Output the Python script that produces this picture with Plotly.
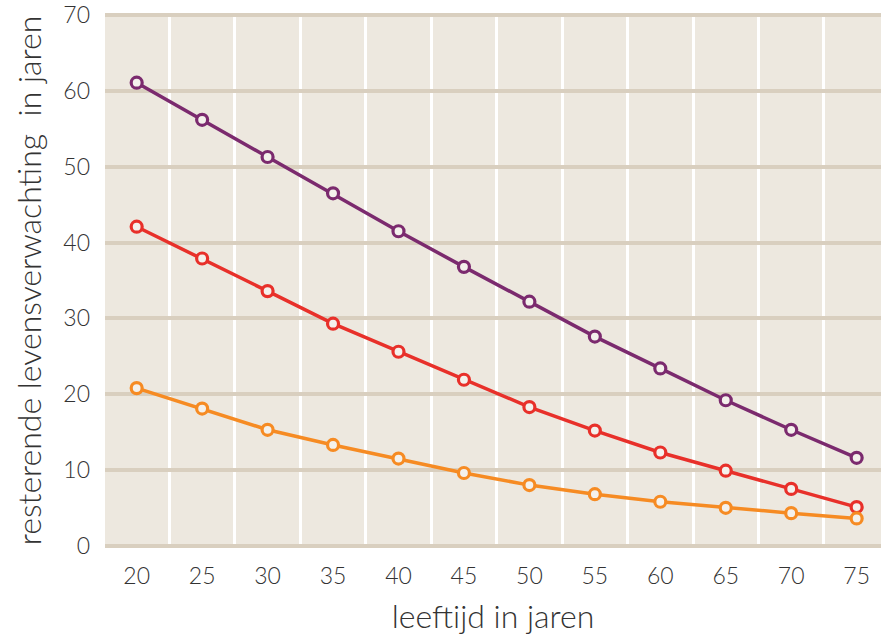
import plotly.graph_objects as go

ages = [20, 25, 30, 35, 40, 45, 50, 55, 60, 65, 70, 75]
purple_vals = [61.1, 56.2, 51.3, 46.5, 41.5, 36.8, 32.2, 27.6, 23.4, 19.2, 15.3, 11.6]
red_vals = [42.1, 37.9, 33.6, 29.3, 25.6, 21.9, 18.3, 15.2, 12.3, 9.9, 7.5, 5.1]
orange_vals = [20.8, 18.1, 15.3, 13.3, 11.5, 9.6, 8.0, 6.8, 5.8, 5.0, 4.3, 3.6]
y_ticks = [0, 10, 20, 30, 40, 50, 60, 70]

series = [
    (purple_vals, "#7B2A6E"),
    (red_vals, "#E8302A"),
    (orange_vals, "#F68B23"),
]

fig = go.Figure()
for vals, col in series:
    fig.add_trace(go.Scatter(
        x=ages, y=vals, mode="lines+markers",
        line=dict(color=col, width=3.5),
        marker=dict(symbol="circle", size=11, color="#F4F1EC",
                    line=dict(color=col, width=3.2)),
        showlegend=False, hoverinfo="skip", cliponaxis=False,
    ))

font_family = "Lato, 'Open Sans', sans-serif"
tick_font = dict(size=23, family=font_family, color="#333333", weight=300)
title_font = dict(size=32, family=font_family, color="#333333", weight=300)

fig.update_layout(
    width=881, height=638,
    margin=dict(l=105, r=0, t=13, b=90),
    paper_bgcolor="white",
    plot_bgcolor="#EDE8DF",
    font=dict(family=font_family, color="#333333"),
    xaxis=dict(
        range=[17.58, 76.86],
        tickvals=ages,
        ticktext=[str(a) for a in ages],
        automargin=False,
        showgrid=False,
        zeroline=False,
        showline=False,
        ticks="",
        ticklabelstandoff=12,
        ticklabeloverflow="allow",
        tickfont=tick_font,
        title=dict(text="leeftijd in jaren", font=title_font, standoff=17),
        minor=dict(tick0=22.5, dtick=5, showgrid=True, gridcolor="white", gridwidth=3),
    ),
    yaxis=dict(
        range=[-0.3, 70.3],
        tickvals=y_ticks,
        automargin=False,
        showgrid=True,
        gridcolor="#D9CFBF",
        gridwidth=4,
        zeroline=False,
        showline=False,
        ticks="",
        ticklabelstandoff=14,
        ticklabeloverflow="allow",
        tickfont=tick_font,
        title=dict(text="resterende levensverwachting  in jaren", font=title_font, standoff=12),
    ),
)

fig.write_html("out.html", config={"displayModeBar": False},
               post_script="document.body.style.margin='0';")
